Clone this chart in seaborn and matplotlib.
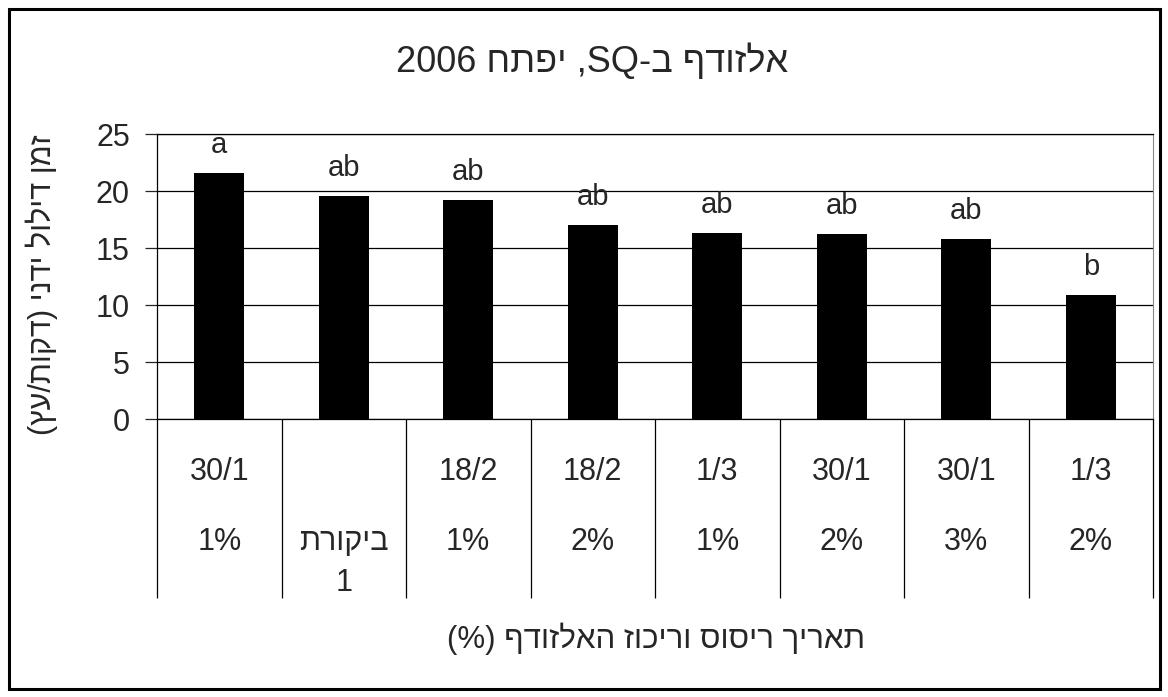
import pandas as pd
import numpy as np
import seaborn as sns
import matplotlib.pyplot as plt
import matplotlib.transforms as mtransforms
from matplotlib.patches import Rectangle

# Hebrew strings are written in visual (left-to-right) order, matplotlib has no bidi
dates = ['30/1', '', '18/2', '18/2', '1/3', '30/1', '30/1', '1/3']
concs = ['1%', 'תרוקיב', '1%', '2%', '1%', '2%', '3%', '2%']
extra = ['', '1', '', '', '', '', '', '']
values = [21.6, 19.6, 19.25, 17.05, 16.35, 16.2, 15.8, 10.9]
letters = ['a', 'ab', 'ab', 'ab', 'ab', 'ab', 'ab', 'b']

title = '2006 חתפי ,SQ-ב ףדוזלא'
ylabel = '(ץע/תוקד) ינדי לוליד ןמז'
xlabel = '(%) ףדוזלאה זוכירו סוסיר ךיראת'

sns.set_style('white')
plt.rcParams['font.family'] = ['Liberation Sans', 'DejaVu Sans']

df = pd.DataFrame({'cat': [f'c{i}' for i in range(len(values))], 'value': values})

fig = plt.figure(figsize=(11.68, 6.97), dpi=100)
ax = fig.add_axes([157/1168, 1 - 419/697, 996/1168, 285/697])

sns.barplot(data=df, x='cat', y='value', color='black', saturation=1,
            width=0.4, ax=ax, edgecolor='none')
ax.bar_label(ax.containers[0], labels=letters, padding=10, fontsize=21)

ax.set_ylim(0, 25)
ax.set_yticks([0, 5, 10, 15, 20, 25])
ax.yaxis.grid(True, color='black', lw=0.9)
ax.set_axisbelow(True)
ax.tick_params(axis='y', direction='out', length=8.5, width=0.9, pad=11,
               labelsize=22, left=True)
ax.set_xticks([])
ax.set_xlabel('')
ax.set_ylabel('')
for s in ['left', 'bottom', 'top']:
    ax.spines[s].set_color('black')
    ax.spines[s].set_linewidth(0.9)
ax.spines['right'].set_color('#888888')

# category table below the axis
trans = mtransforms.blended_transform_factory(ax.transData, ax.transAxes)
ax.vlines(np.arange(len(values) + 1) - 0.5, -0.628, 0, transform=trans,
          color='black', lw=0.9, clip_on=False)
for i in range(len(values)):
    ax.text(i, -0.214, dates[i], transform=trans, ha='center', va='baseline', fontsize=22)
    ax.text(i, -0.460, concs[i], transform=trans, ha='center', va='baseline', fontsize=22)
    ax.text(i, -0.604, extra[i], transform=trans, ha='center', va='baseline', fontsize=22)
ax.set_xlim(-0.5, len(values) - 0.5)

fig.text(0.507, 1 - 72/697, title, ha='center', va='baseline', fontsize=26)
fig.text(656/1168, 1 - 648/697, xlabel, ha='center', va='baseline', fontsize=22.5)
fig.text(42/1168, 1 - 285/697, ylabel, ha='center', va='center', rotation=90, fontsize=22)

fig.patches.append(Rectangle((8.5/1168, 8.5/697), 1 - 17/1168, 1 - 17/697,
                             transform=fig.transFigure, fill=False, lw=2.2,
                             ec='black'))

fig.savefig('out.png', dpi=100)
